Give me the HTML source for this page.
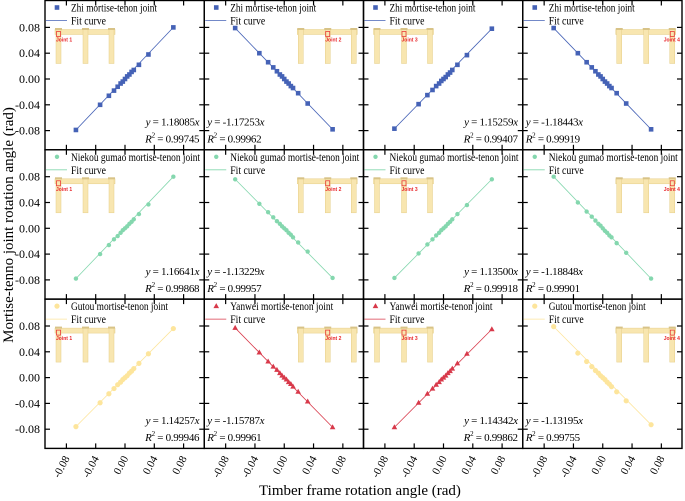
<!DOCTYPE html>
<html><head><meta charset="utf-8"><style>
html,body{margin:0;padding:0;background:#fff;}
svg{display:block;font-family:"Liberation Serif",serif;}
</style></head><body>
<svg id="c" width="685" height="501" viewBox="0 0 685 501">
<text x="360" y="495" font-size="15" text-anchor="middle">Timber frame rotation angle (rad)</text>
<text transform="translate(13,225) rotate(-90)" font-size="15" text-anchor="middle">Mortise-tenno joint rotation angle (rad)</text>
</svg>
<script>
const ticks = [-0.08,-0.04,0.00,0.04,0.08];
const tickLabels = ["-0.08","-0.04","0.00","0.04","0.08"];
const xs = [-0.067,-0.034,-0.022,-0.015,-0.010,-0.006,-0.003,0.000,0.003,0.006,0.009,0.012,0.019,0.032,0.066];
const names = ["Zhi","Zhi","Zhi","Zhi","Niekou gumao","Niekou gumao","Niekou gumao","Niekou gumao","Gutou","Yanwei","Yanwei","Gutou"];
const slopes = ["1.18085","-1.17253","1.15259","-1.18443","1.16641","-1.13229","1.13500","-1.18848","1.14257","-1.15787","1.14342","-1.13195"];
const r2s = ["0.99745","0.99962","0.99407","0.99919","0.99868","0.99957","0.99918","0.99901","0.99946","0.99961","0.99862","0.99755"];
const y0 = [-0.079,-0.040,-0.026,-0.018,-0.012,-0.007,-0.004,0.000,0.004,0.007,0.011,0.014,0.022,0.038,0.080];
const y1 = [0.079,0.040,0.026,0.018,0.012,0.007,0.004,0.000,-0.004,-0.007,-0.011,-0.014,-0.022,-0.038,-0.078];
const y2 = [-0.077,-0.039,-0.025,-0.017,-0.011,-0.007,-0.003,0.000,0.003,0.007,0.010,0.014,0.022,0.037,0.078];
const y3 = [0.079,0.040,0.026,0.018,0.012,0.007,0.004,0.000,-0.004,-0.007,-0.011,-0.014,-0.022,-0.038,-0.078];
const y4 = [-0.078,-0.040,-0.026,-0.017,-0.012,-0.007,-0.003,0.000,0.003,0.007,0.010,0.014,0.022,0.037,0.080];
const y5 = [0.076,0.038,0.025,0.017,0.011,0.007,0.003,0.000,-0.003,-0.007,-0.010,-0.014,-0.022,-0.036,-0.077];
const y6 = [-0.077,-0.039,-0.025,-0.017,-0.011,-0.007,-0.003,0.000,0.003,0.007,0.010,0.014,0.022,0.036,0.076];
const y7 = [0.080,0.040,0.026,0.018,0.012,0.007,0.004,0.000,-0.004,-0.007,-0.011,-0.014,-0.023,-0.038,-0.078];
const y8 = [-0.076,-0.039,-0.025,-0.017,-0.011,-0.007,-0.003,0.000,0.003,0.007,0.010,0.014,0.022,0.037,0.076];
const y9 = [0.077,0.039,0.025,0.017,0.012,0.007,0.003,0.000,-0.003,-0.007,-0.010,-0.014,-0.022,-0.037,-0.077];
const y10 = [-0.077,-0.039,-0.025,-0.017,-0.011,-0.007,-0.003,0.000,0.003,0.007,0.010,0.014,0.022,0.037,0.075];
const y11 = [0.079,0.038,0.025,0.017,0.011,0.007,0.003,0.000,-0.003,-0.007,-0.010,-0.014,-0.022,-0.036,-0.073];
const ys = [y0,y1,y2,y3,y4,y5,y6,y7,y8,y9,y10,y11];

const NS="http://www.w3.org/2000/svg";
const svg=document.getElementById('c');
const L=45,T=0.5,W=159.25,H=149.3;
const colors={"Zhi":"#4562b6","Niekou gumao":"#84d7ae","Gutou":"#fde59c","Yanwei":"#d8394a"};
const legW={"Zhi":86,"Niekou gumao":129,"Gutou":97,"Yanwei":103};
function mk(tag,attrs,parent){const e=document.createElementNS(NS,tag);for(const k in attrs)e.setAttribute(k,attrs[k]);(parent||svg).appendChild(e);return e;}
function marker(g,kind,x,y,c){
  let e;
  if(kind==="Zhi") e=mk('rect',{x:x-2.3,y:y-2.3,width:4.6,height:4.6,fill:c},g);
  else if(kind==="Niekou gumao") e=mk('circle',{cx:x,cy:y,r:2.2,fill:c},g);
  else if(kind==="Gutou") e=mk('circle',{cx:x,cy:y,r:2.6,fill:c},g);
  else e=mk('polygon',{points:`${x},${y-3} ${x-2.8},${y+2} ${x+2.8},${y+2}`,fill:c},g);
  return e;
}
for(let i=0;i<12;i++){
  const col=i%4,row=Math.floor(i/4);
  const px=L+col*W,py=T+row*H;
  const sx=v=>px+80+v/0.04*29.3;
  const sy=v=>py+78.5-v/0.08*51.6;
  const g=mk('g',{});
  
  
  const nm=names[i],c=colors[nm];
  const left=(col%2===0);
  const fx=px+(left?10:93);
  const inset=mk('g',{},g);
  
  
  const fill="#f8e6b0",st="#e6cf8a";
  mk('rect',{x:fx,y:py+29,width:60,height:5,fill:fill,stroke:st,'stroke-width':0.5},inset);
  const posts=[fx+1,fx+28,fx+54];
  posts.forEach(p=>{mk('rect',{x:p,y:py+29,width:5,height:34,fill:fill,stroke:st,'stroke-width':0.5},inset);mk('rect',{x:p-1,y:py+27.5,width:7,height:2,fill:"#d8c387"},inset);});
  const jp=posts[col===0?0:(col===3?2:1)];
  mk('rect',{x:jp+0.5,y:py+31,width:4,height:5,fill:"none",stroke:"#e8262a",'stroke-width':0.7},inset);
  const jt=mk('text',{x:jp+(col===3?-6:0),y:py+41,'font-size':5,fill:"#e8262a",'font-family':'Liberation Sans, sans-serif','font-weight':'bold'},inset);
  jt.textContent="Joint "+(col+1);
  const xv=xs,yv=ys[i];
  const fl=mk('line',{x1:sx(xv[0]),y1:sy(yv[0]),x2:sx(xv[xv.length-1]),y2:sy(yv[yv.length-1]),stroke:c,'stroke-width':0.8},g);
  
  
  for(let k=0;k<xv.length;k++){
    const m=marker(g,nm,sx(xv[k]),sy(yv[k]),c);
    
    
  }
  const lg=mk('g',{},g);
  
  
  marker(lg,nm,px+12,py+7,c);
  const lt=mk('text',{x:px+26,y:py+11,'font-size':12,textLength:legW[nm],lengthAdjust:'spacingAndGlyphs'},lg);lt.textContent=nm+" mortise-tenon joint";
  mk('line',{x1:px+1,y1:py+20,x2:px+22,y2:py+20,stroke:c,'stroke-width':0.8},lg);
  const lt2=mk('text',{x:px+26,y:py+24,'font-size':12,textLength:35,lengthAdjust:'spacingAndGlyphs'},lg);lt2.textContent="Fit curve";
  const neg=slopes[i].startsWith('-');
  const ex=neg?px+3:px+W-5,anc=neg?'start':'end';
  const e1=mk('text',{x:ex,y:py+125,'font-size':11,'text-anchor':anc,'letter-spacing':'-0.3'},g);
  e1.innerHTML='<tspan font-style="italic">y</tspan> = '+slopes[i]+'<tspan font-style="italic">x</tspan>';
  
  
  const e2=mk('text',{x:ex,y:py+142,'font-size':11,'text-anchor':anc,'letter-spacing':'-0.3'},g);
  e2.innerHTML='<tspan font-style="italic">R</tspan><tspan font-size="7" dy="-5">2</tspan><tspan dy="5"> = '+r2s[i]+'</tspan>';
  
  
  ticks.forEach((t,j)=>{
    mk('line',{x1:sx(t),y1:py+H,x2:sx(t),y2:py+H-5,stroke:'#000','stroke-width':1.2},g);
    mk('line',{x1:sx(t),y1:py,x2:sx(t),y2:py+5,stroke:'#000','stroke-width':1.2},g);
    mk('line',{x1:px,y1:sy(t),x2:px+5,y2:sy(t),stroke:'#000','stroke-width':1.2},g);
    mk('line',{x1:px+W,y1:sy(t),x2:px+W-5,y2:sy(t),stroke:'#000','stroke-width':1.2},g);
    if(col===0){const tl=mk('text',{x:px-5,y:sy(t)+4,'font-size':12,'text-anchor':'end'},g);tl.textContent=tickLabels[j];
      }
    if(row===2){const tx=sx(t),ty=py+H+8;const tl=mk('text',{x:tx,y:ty,'font-size':11,'text-anchor':'end',transform:`rotate(-62 ${tx} ${ty})`,dy:'4'},g);tl.textContent=tickLabels[j];
      }
  });
  mk('rect',{x:px,y:py,width:W,height:H,fill:'none',stroke:'#000','stroke-width':1.4},g);
}
</script>
</body></html>
